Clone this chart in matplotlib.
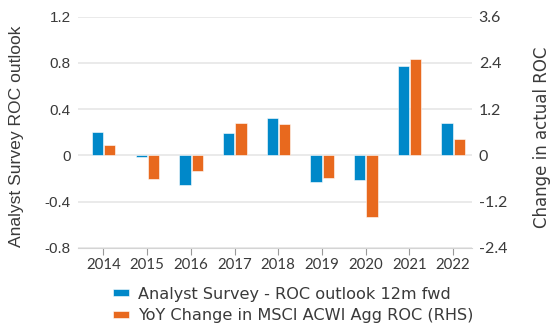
import numpy as np
import matplotlib.pyplot as plt

plt.rcParams['font.family'] = ['Lato', 'DejaVu Sans']

years = ['2014', '2015', '2016', '2017', '2018', '2019', '2020', '2021', '2022']
survey_outlook = [0.20, -0.012, -0.26, 0.19, 0.32, -0.23, -0.21, 0.77, 0.28]
acwi_roc_change = [0.28, -0.62, -0.40, 0.84, 0.81, -0.60, -1.61, 2.50, 0.43]

left_ticks = [-0.8, -0.4, 0, 0.4, 0.8, 1.2]
left_labels = ['-0.8', '-0.4', '0', '0.4', '0.8', '1.2']
right_ticks = [-2.4, -1.2, 0, 1.2, 2.4, 3.6]
right_labels = ['-2.4', '-1.2', '0', '1.2', '2.4', '3.6']

blue = '#0088c9'
orange = '#e8691e'
text_col = '#3a3a3a'
grid_col = '#e4e4e4'

fig = plt.figure(figsize=(5.59, 3.33), dpi=100)
ax = fig.add_axes([0.139, 0.256, 0.705, 0.694])
ax2 = ax.twinx()

x = np.arange(len(years))
w = 0.26
ax.bar(x - 0.135, survey_outlook, w, color=blue, edgecolor='white', linewidth=0.4,
       label='Analyst Survey - ROC outlook 12m fwd', zorder=3)
ax2.bar(x + 0.145, acwi_roc_change, w, color=orange, edgecolor='white', linewidth=0.4,
        label='YoY Change in MSCI ACWI Agg ROC (RHS)', zorder=3)

ax.set_xlim(-0.59, 8.43)
ax.set_ylim(-0.8, 1.2)
ax2.set_ylim(-2.4, 3.6)

ax.set_yticks(left_ticks)
ax.set_yticklabels(left_labels, family='Liberation Sans', fontsize=11)
ax2.set_yticks(right_ticks)
ax2.set_yticklabels(right_labels, fontsize=11.5)
ax.set_xticks(x)
ax.set_xticklabels(years, fontsize=10.8)

for a in (ax, ax2):
    for s in a.spines.values():
        s.set_visible(False)
    a.tick_params(axis='y', length=0, labelcolor=text_col, pad=5)
ax.spines['bottom'].set_visible(True)
ax.spines['bottom'].set_color('#d4d4d4')
ax.tick_params(axis='x', length=5, color='#9a9a9a', labelcolor=text_col, pad=2.5)

ax.grid(axis='y', color=grid_col, linewidth=1.1, zorder=0)
ax.set_axisbelow(True)

# axis titles placed in figure pixels so both sides sit at the outer edges
fig.text(17 / 559, 1 - 136 / 333, 'Analyst Survey ROC outlook', rotation=90,
         ha='center', va='center', family='Liberation Sans', fontsize=12.6, color=text_col)
fig.text(542 / 559, 1 - 137 / 333, 'Change in actual ROC', rotation=90,
         ha='center', va='center', family='DejaVu Sans', fontsize=12, color=text_col)

h1, l1 = ax.get_legend_handles_labels()
h2, l2 = ax2.get_legend_handles_labels()
fig.legend(h1 + h2, l1 + l2, loc='center left', bbox_to_anchor=(113 / 559, 1 - 305 / 333),
           frameon=False, prop={'family': 'DejaVu Sans', 'size': 11.6}, labelcolor=text_col,
           handlelength=1.0, handleheight=0.3, handletextpad=0.55,
           labelspacing=0.42, borderaxespad=0, borderpad=0)

fig.savefig('out.png', dpi=100)
